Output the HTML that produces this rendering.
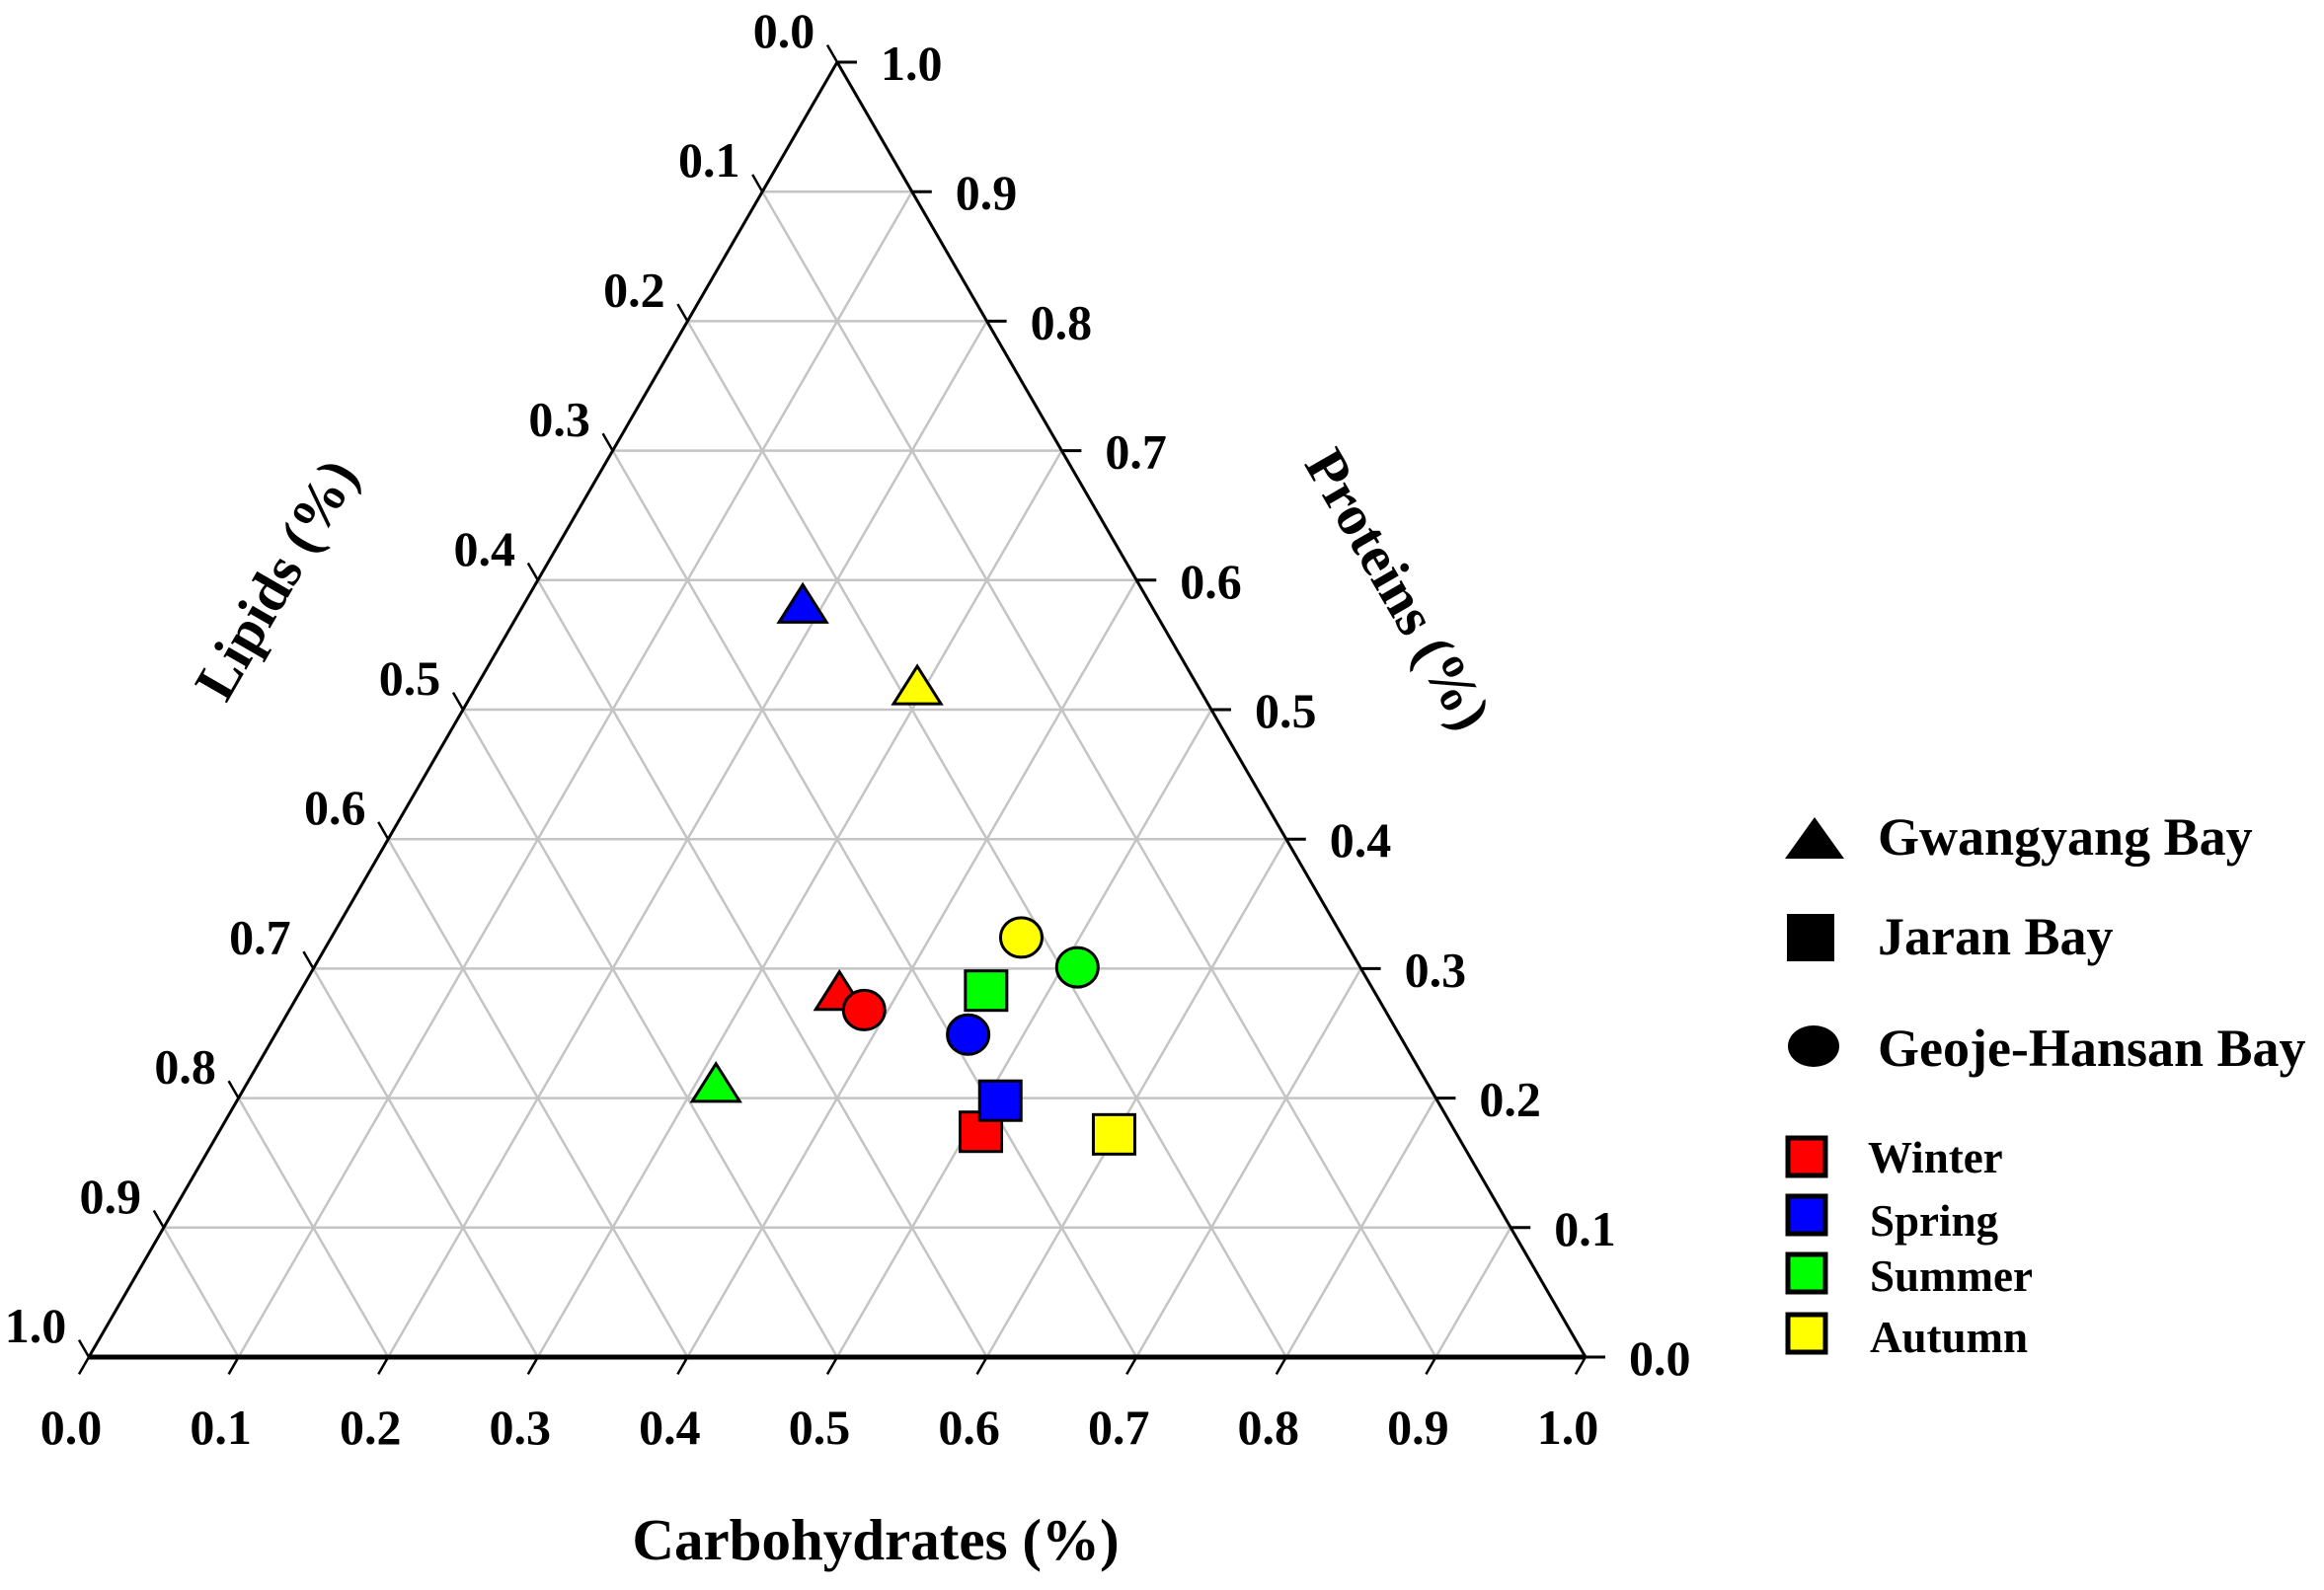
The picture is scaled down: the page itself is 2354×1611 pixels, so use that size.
<!DOCTYPE html>
<html><head><meta charset="utf-8"><style>
html,body{margin:0;padding:0;background:#fff;}
svg{display:block;}
text{font-family:"Liberation Serif",serif;font-weight:bold;fill:#000;}
</style></head><body>
<svg id="chart" width="2354" height="1611" viewBox="0 0 2354 1611" xmlns="http://www.w3.org/2000/svg">
<g id="grid"></g>
<g id="axes"></g>
<g id="ticks"></g>
<g id="marks"></g>
<text x="887" y="1580" font-size="59" text-anchor="middle">Carbohydrates (%)</text>
<text x="285" y="590" font-size="58" text-anchor="middle" dominant-baseline="middle" transform="rotate(-60 285 590)">Lipids (%)</text>
<text x="1411" y="600" font-size="58" text-anchor="middle" dominant-baseline="middle" transform="rotate(60 1411 600)">Proteins (%)</text>
<g>
<polygon points="1808,870 1868,870 1838,828" fill="#000"/>
<text x="1902" y="866" font-size="54">Gwangyang Bay</text>
<rect x="1810" y="926" width="48" height="48" fill="#000"/>
<text x="1902" y="967" font-size="54">Jaran Bay</text>
<ellipse cx="1837" cy="1060" rx="26" ry="21" fill="#000"/>
<text x="1902" y="1080" font-size="54">Geoje-Hansan Bay</text>
<rect x="1811" y="1153" width="38" height="38" fill="#f00" stroke="#000" stroke-width="5"/>
<text x="1892" y="1188" font-size="45">Winter</text>
<rect x="1811" y="1212" width="38" height="38" fill="#00f" stroke="#000" stroke-width="5"/>
<text x="1894" y="1252" font-size="45">Spring</text>
<rect x="1811" y="1271" width="38" height="38" fill="#0f0" stroke="#000" stroke-width="5"/>
<text x="1894" y="1308" font-size="45">Summer</text>
<rect x="1811" y="1332" width="38" height="38" fill="#ff0" stroke="#000" stroke-width="5"/>
<text x="1894" y="1370" font-size="45">Autumn</text>
</g>
</svg>
<script>
const tickValues = [0,0.1,0.2,0.3,0.4,0.5,0.6,0.7,0.8,0.9,1.0];
const tickLabels = ["0.0","0.1","0.2","0.3","0.4","0.5","0.6","0.7","0.8","0.9","1.0"];
const pointNames = ["gwangyang-winter","gwangyang-spring","gwangyang-summer","gwangyang-autumn","jaran-winter","jaran-spring","jaran-summer","jaran-autumn","geoje-winter","geoje-spring","geoje-summer","geoje-autumn"];
const pointShapes = ["tri","tri","tri","tri","sq","sq","sq","sq","circ","circ","circ","circ"];
const pointColors = ["#ff0000","#0000ff","#00ff00","#ffff00","#ff0000","#0000ff","#00ff00","#ffff00","#ff0000","#0000ff","#00ff00","#ffff00"];
const carbValues = [0.360,0.186,0.313,0.294,0.509,0.510,0.458,0.599,0.384,0.463,0.510,0.461];
const proteinValues = [0.283,0.582,0.212,0.519,0.174,0.198,0.283,0.172,0.268,0.249,0.301,0.324];

const NS="http://www.w3.org/2000/svg";
const X0=90, Y0=1375, W=1516, H=1312;
function px(c,p){return X0+W*(c+p/2);}
function py(c,p){return Y0-H*p;}
function mk(tag,attrs,parent){const e=document.createElementNS(NS,tag);for(const k in attrs)e.setAttribute(k,attrs[k]);parent.appendChild(e);return e;}
const grid=document.getElementById('grid'), axes=document.getElementById('axes'), ticks=document.getElementById('ticks'), marks=document.getElementById('marks');
for(let i=1;i<10;i++){
  const v=tickValues[i];
  let l=mk('line',{x1:px(0,v),y1:py(0,v),x2:px(1-v,v),y2:py(1-v,v),stroke:'#c4c4c4','stroke-width':2.5},grid);
  
  
  l=mk('line',{x1:px(v,0),y1:py(v,0),x2:px(v,1-v),y2:py(v,1-v),stroke:'#c4c4c4','stroke-width':2.5},grid);
  
  
  l=mk('line',{x1:px(1-v,0),y1:py(1-v,0),x2:px(0,1-v),y2:py(0,1-v),stroke:'#c4c4c4','stroke-width':2.5},grid);
  
  
}
let e=mk('line',{x1:px(0,0),y1:py(0,0),x2:px(1,0),y2:py(1,0),stroke:'#000','stroke-width':5},axes);


e=mk('line',{x1:px(0,0),y1:py(0,0),x2:px(0,1),y2:py(0,1),stroke:'#000','stroke-width':3},axes);


e=mk('line',{x1:px(1,0),y1:py(1,0),x2:px(0,1),y2:py(0,1),stroke:'#000','stroke-width':3},axes);


const T=20, cs=Math.cos(Math.PI/3), sn=Math.sin(Math.PI/3);
for(let i=0;i<tickValues.length;i++){
  const v=tickValues[i];
  let x=px(v,0), y=py(v,0);
  let t=mk('line',{x1:x,y1:y,x2:x-T*cs,y2:y+T*sn,stroke:'#000','stroke-width':2.5},axes);
  
  
  let lb=mk('text',{x:x-18,y:1463,'font-size':50,'text-anchor':'middle'},ticks);
  lb.textContent=tickLabels[i];
  
  
  x=px(0,1-v); y=py(0,1-v);
  t=mk('line',{x1:x,y1:y,x2:x-T*cs,y2:y-T*sn,stroke:'#000','stroke-width':2.5},axes);
  
  
  lb=mk('text',{x:x-54,y:y-15,'font-size':50,'text-anchor':'middle'},ticks);
  lb.textContent=tickLabels[i];
  
  
  x=px(1-v,v); y=py(1-v,v);
  t=mk('line',{x1:x,y1:y,x2:x+T,y2:y,stroke:'#000','stroke-width':3},axes);
  
  
  lb=mk('text',{x:x+44,y:y+18,'font-size':50,'text-anchor':'start'},ticks);
  lb.textContent=tickLabels[i];
  
  
}
for(let i=0;i<carbValues.length;i++){
  const x=px(carbValues[i],proteinValues[i]), y=py(carbValues[i],proteinValues[i]);
  let m;
  if(pointShapes[i]==='tri'){
    m=mk('polygon',{points:`${x-24},${y+19} ${x+24},${y+19} ${x},${y-19}`,fill:pointColors[i],stroke:'#000','stroke-width':3},marks);
  }else if(pointShapes[i]==='sq'){
    m=mk('rect',{x:x-21,y:y-20,width:42,height:40,fill:pointColors[i],stroke:'#000','stroke-width':3},marks);
  }else{
    m=mk('ellipse',{cx:x,cy:y,rx:21,ry:20,fill:pointColors[i],stroke:'#000','stroke-width':3},marks);
  }
  
  
}
</script>
</body></html>
